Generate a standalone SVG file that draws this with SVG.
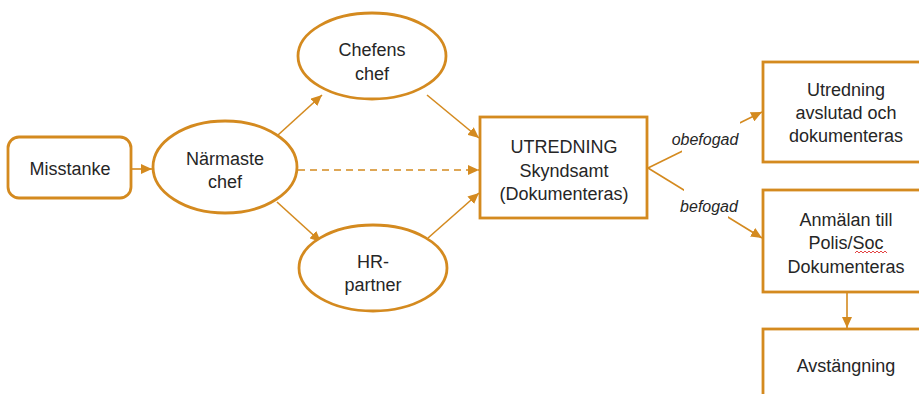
<svg xmlns="http://www.w3.org/2000/svg" width="919" height="394" viewBox="0 0 919 394">
<defs>
<marker id="ah" markerUnits="userSpaceOnUse" markerWidth="12" markerHeight="10" refX="11" refY="5" orient="auto">
<path d="M0,0 L11,5 L0,10 Z" fill="#D48A1F"/>
</marker>
<style>
.box{fill:#fff;stroke:#D48A1F;stroke-width:2.8}
.ell{fill:#fff;stroke:#D48A1F;stroke-width:2.8}
.con{fill:none;stroke:#D48A1F;stroke-width:1.6}
.t{font-family:"Liberation Sans",Arial,sans-serif;font-size:18px;fill:#262626;text-anchor:middle}
.lbl{font-family:"Liberation Sans",Arial,sans-serif;font-size:16px;font-style:italic;fill:#262626;text-anchor:middle}
</style>
</defs>
<rect width="919" height="394" fill="#fff"/>
<g id="connectors">
<line class="con" x1="132" y1="169" x2="152" y2="169" marker-end="url(#ah)"/>
<line class="con" x1="278" y1="135" x2="322" y2="95" marker-end="url(#ah)"/>
<line class="con" x1="427" y1="95" x2="479" y2="138" marker-end="url(#ah)"/>
<line class="con" x1="277" y1="202" x2="321" y2="242" marker-end="url(#ah)"/>
<line class="con" x1="428" y1="238" x2="479" y2="193" marker-end="url(#ah)"/>
<line class="con" x1="298" y1="170" x2="479" y2="170" stroke-dasharray="7,5" marker-end="url(#ah)"/>
<line class="con" x1="648" y1="168" x2="762" y2="112" marker-end="url(#ah)"/>
<line class="con" x1="648" y1="168" x2="762" y2="238" marker-end="url(#ah)"/>
<line class="con" x1="847" y1="292" x2="847" y2="328" marker-end="url(#ah)"/>
<rect x="682" y="118" width="58" height="36" fill="#fff"/>
<rect x="684" y="185" width="44" height="36" fill="#fff"/>
<text class="lbl" x="705" y="145">obefogad</text>
<text class="lbl" x="709" y="212">befogad</text>
</g>
<g id="misstanke">
<rect class="box" x="8" y="137" width="123" height="61" rx="11"/>
<text class="t" x="70" y="175">Misstanke</text>
</g>
<g id="narmaste">
<ellipse class="ell" cx="225" cy="167" rx="72" ry="46"/>
<text class="t" x="225" y="165">Närmaste</text>
<text class="t" x="225" y="188">chef</text>
</g>
<g id="chefens">
<ellipse class="ell" cx="372" cy="56" rx="74" ry="43"/>
<text class="t" x="372" y="56">Chefens</text>
<text class="t" x="372" y="80">chef</text>
</g>
<g id="hr">
<ellipse class="ell" cx="373" cy="268" rx="74" ry="43"/>
<text class="t" x="373" y="268">HR-</text>
<text class="t" x="373" y="291">partner</text>
</g>
<g id="utredning">
<rect class="box" x="480" y="117" width="167" height="101"/>
<text class="t" x="564" y="153">UTREDNING</text>
<text class="t" x="564" y="177">Skyndsamt</text>
<text class="t" x="564" y="200">(Dokumenteras)</text>
</g>
<g id="avslutad">
<rect class="box" x="763" y="62" width="170" height="100"/>
<text class="t" x="846" y="96">Utredning</text>
<text class="t" x="846" y="119">avslutad och</text>
<text class="t" x="846" y="142">dokumenteras</text>
</g>
<g id="anmalan">
<rect class="box" x="763" y="190" width="170" height="102"/>
<text class="t" x="846" y="226">Anmälan till</text>
<text class="t" x="846" y="249">Polis/Soc</text>
<text class="t" x="846" y="273">Dokumenteras</text>
<path d="M855,253 l2,-2 l2,2 l2,-2 l2,2 l2,-2 l2,2 l2,-2 l2,2 l2,-2 l2,2 l2,-2 l2,2 l2,-2 l2,2 l2,-2 l2,2" fill="none" stroke="#E03030" stroke-width="0.9"/>
</g>
<g id="avstangning">
<rect class="box" x="763" y="329" width="170" height="80"/>
<text class="t" x="846" y="372">Avstängning</text>
</g>
</svg>
